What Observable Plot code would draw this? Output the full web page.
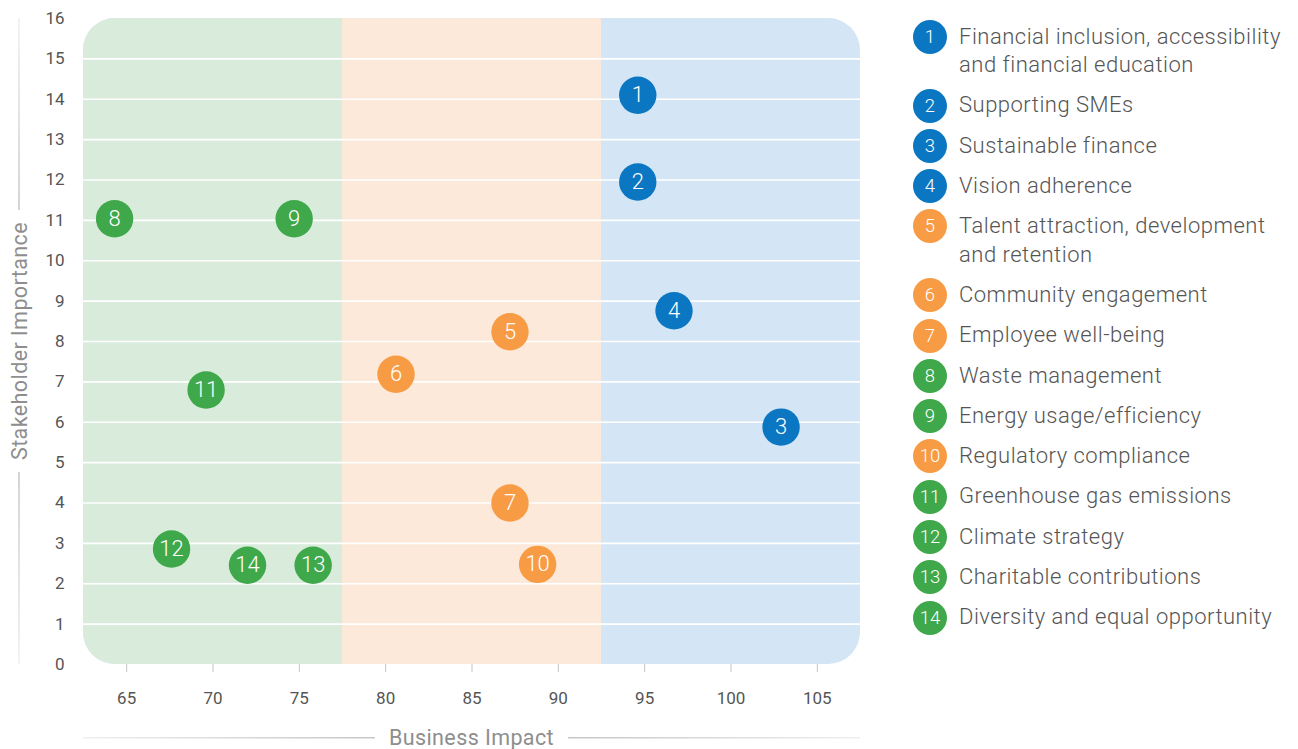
<!DOCTYPE html>
<html><head><meta charset="utf-8">
<script src="https://cdn.jsdelivr.net/npm/d3@7"></script>
<script src="https://cdn.jsdelivr.net/npm/@observablehq/plot@0.6"></script>
<style>
body{margin:0;background:#fff;font-family:Roboto,sans-serif;}
#wrap{position:relative;width:1298px;height:749px;overflow:hidden;}
#chart{position:absolute;left:0;top:0;}
#legend{position:absolute;left:913px;top:22.5px;}
.item{display:flex;align-items:flex-start;margin-bottom:11.8px;}
.badge{width:34px;height:34px;border-radius:50%;color:#fff;font-size:18.5px;font-weight:300;display:flex;align-items:center;justify-content:center;margin:-2.75px 0;flex:none;}
.label{margin-left:12px;font-size:22px;line-height:28.5px;color:#555;width:338px;font-weight:300;letter-spacing:0.5px;}
</style></head><body>
<div id="wrap"><div id="chart"></div><div id="legend"></div></div>
<script>
// ---- data ----
const ids = [1, 2, 3, 4, 5, 6, 7, 8, 9, 10, 11, 12, 13, 14];
const topics = [
  "Financial inclusion, accessibility and financial education",
  "Supporting SMEs",
  "Sustainable finance",
  "Vision adherence",
  "Talent attraction, development and retention",
  "Community engagement",
  "Employee well-being",
  "Waste management",
  "Energy usage/efficiency",
  "Regulatory compliance",
  "Greenhouse gas emissions",
  "Climate strategy",
  "Charitable contributions",
  "Diversity and equal opportunity"
];
const businessImpact = [94.6, 94.6, 102.9, 96.7, 87.2, 80.6, 87.2, 64.3, 74.7, 88.8, 69.6, 67.6, 75.8, 72.0];
const stakeholderImportance = [14.1, 11.95, 5.88, 8.76, 8.24, 7.19, 4.0, 11.04, 11.04, 2.48, 6.8, 2.86, 2.46, 2.46];
const groups = ["Economic","Economic","Economic","Economic","Social","Social","Social","Environmental","Environmental","Social","Environmental","Environmental","Environmental","Environmental"];
const groupNames = ["Environmental", "Social", "Economic"];
const groupColors = ["#3ea84b", "#f89b45", "#0b77c2"];
const bandColors = ["#d9ecdc", "#fde9d9", "#d4e5f5"];
const bandEdges = [62.5, 77.5, 92.5, 107.5];
const xTicks = [65, 70, 75, 80, 85, 90, 95, 100, 105];
const yTicks = [0, 1, 2, 3, 4, 5, 6, 7, 8, 9, 10, 11, 12, 13, 14, 15, 16];
const gridLines = [1, 2, 3, 4, 5, 6, 7, 8, 9, 10, 11, 12, 13, 14, 15];
const xTitle = "Business Impact";
const yTitle = "Stakeholder Importance";

const data = ids.map((id, i) => ({id, topic: topics[i], x: businessImpact[i], y: stakeholderImportance[i], group: groups[i]}));
const colorOf = g => groupColors[groupNames.indexOf(g)];
const yMin = yTicks[0], yMax = yTicks[yTicks.length - 1];

const band = (a, b) => [{x1: bandEdges[a], x2: bandEdges[b], y1: yMin, y2: yMax}];
const rectOpts = {x1: "x1", x2: "x2", y1: "y1", y2: "y2"};

const plot = Plot.plot({
  width: 890, height: 749,
  marginLeft: 83, marginRight: 30, marginTop: 18, marginBottom: 85,
  style: {fontFamily: "Roboto, sans-serif", background: "transparent"},
  x: {domain: [bandEdges[0], bandEdges[3]]},
  y: {domain: [yMin, yMax]},
  color: {domain: groupNames, range: groupColors},
  marks: [
    Plot.rect(band(0, 3), {...rectOpts, fill: bandColors[2], rx: 32}),
    Plot.rect(band(0, 2), {...rectOpts, fill: bandColors[0], rx: 32}),
    Plot.rect(band(1, 2), {...rectOpts, fill: bandColors[1]}),
    Plot.ruleY(gridLines, {stroke: "#ffffff", strokeWidth: 1.6}),
    Plot.axisX({ticks: xTicks, tickSize: 8, tickPadding: 19, stroke: "#c4c4c4", fill: "#555", fontSize: 17, label: null}),
    Plot.axisY({ticks: yTicks, tickSize: 0, tickPadding: 19, fill: "#555", fontSize: 17, label: null}),
    Plot.dot(data, {x: "x", y: "y", r: 18.7, fill: "group"}),
    Plot.text(data, {x: "x", y: "y", text: d => String(d.id), fill: "#ffffff", fontSize: 22, fontWeight: 300})
  ]
});
document.getElementById("chart").append(plot);

// axis titles with fading side lines
const svg = d3.select(plot);
const xr = plot.scale("x").range, yr = plot.scale("y").range;
const defs = svg.append("defs");
function grad(id, x1, y1, x2, y2) {
  const g = defs.append("linearGradient").attr("id", id).attr("x1", x1).attr("y1", y1).attr("x2", x2).attr("y2", y2);
  g.append("stop").attr("offset", "0%").attr("stop-color", "#efefef");
  g.append("stop").attr("offset", "100%").attr("stop-color", "#c6c6c6");
}
grad("gl", 0, 0, 1, 0); grad("gr", 1, 0, 0, 0); grad("gt", 0, 0, 0, 1); grad("gb", 0, 1, 0, 0);

const xc = (xr[0] + xr[1]) / 2, xy = 737;
const xt = svg.append("text").attr("x", xc).attr("y", xy).attr("text-anchor", "middle").attr("dominant-baseline", "central")
  .attr("fill", "#8e8e8e").attr("font-size", 21.5).attr("letter-spacing", 0.4).attr("font-family", "Roboto, sans-serif").text(xTitle);
const xl = xt.node().getComputedTextLength();
svg.append("rect").attr("x", xr[0]).attr("y", xy).attr("width", xc - xl / 2 - 14 - xr[0]).attr("height", 1.5).attr("fill", "url(#gl)");
svg.append("rect").attr("x", xc + xl / 2 + 14).attr("y", xy).attr("width", xr[1] - (xc + xl / 2 + 14)).attr("height", 1.5).attr("fill", "url(#gr)");

const yTop = Math.min(...yr), yBot = Math.max(...yr);
const yc = (yTop + yBot) / 2, yx = 19;
const yt = svg.append("text").attr("transform", `translate(${yx},${yc}) rotate(-90)`).attr("text-anchor", "middle").attr("dominant-baseline", "central")
  .attr("fill", "#8e8e8e").attr("font-size", 21.5).attr("letter-spacing", 0.4).attr("font-family", "Roboto, sans-serif").text(yTitle);
const yl = yt.node().getComputedTextLength();
svg.append("rect").attr("x", yx - 0.75).attr("y", yTop).attr("width", 1.5).attr("height", yc - yl / 2 - 12 - yTop).attr("fill", "url(#gt)");
svg.append("rect").attr("x", yx - 0.75).attr("y", yc + yl / 2 + 12).attr("width", 1.5).attr("height", yBot - (yc + yl / 2 + 12)).attr("fill", "url(#gb)");

// legend
const legend = d3.select("#legend");
data.forEach(d => {
  const it = legend.append("div").attr("class", "item");
  it.append("div").attr("class", "badge").style("background", colorOf(d.group)).text(d.id);
  it.append("div").attr("class", "label").text(d.topic);
});
</script>
</body></html>
